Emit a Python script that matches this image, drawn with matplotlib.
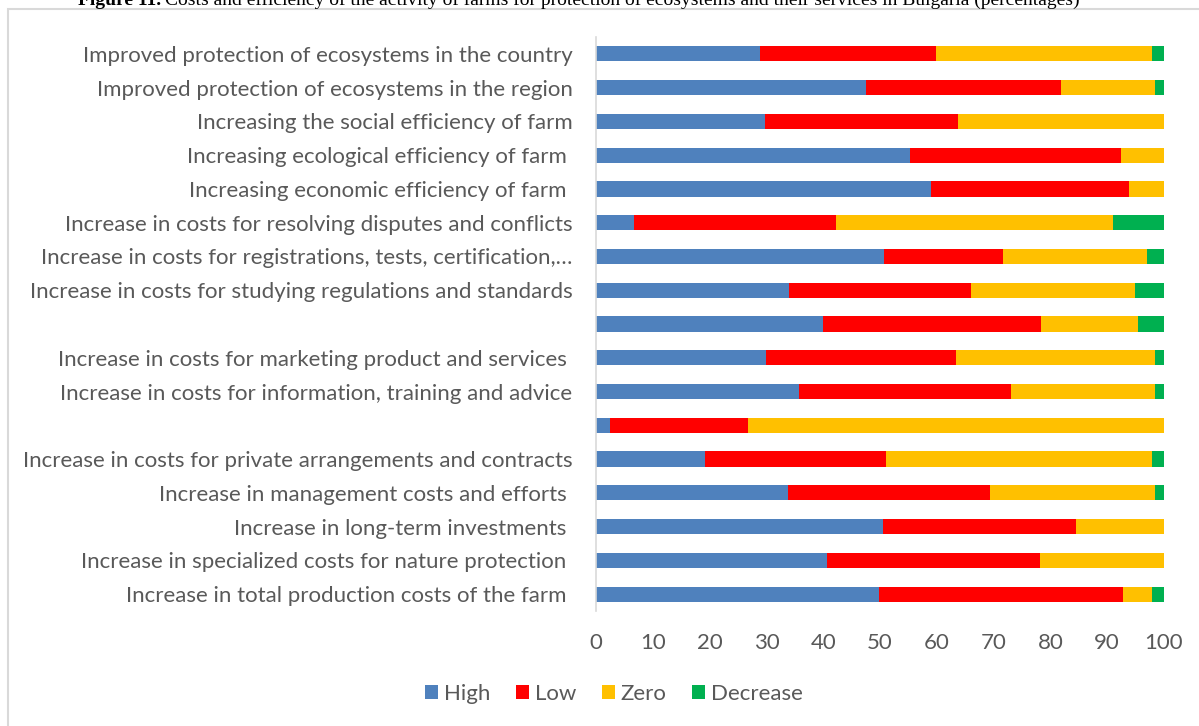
import numpy as np
import matplotlib
matplotlib.use("Agg")
import matplotlib.pyplot as plt
from matplotlib.patches import Rectangle

# categories, top to bottom as in the chart
categories = [
    "Improved protection of ecosystems in the country",
    "Improved protection of ecosystems in the region",
    "Increasing the social efficiency of farm",
    "Increasing ecological efficiency of farm ",
    "Increasing economic efficiency of farm ",
    "Increase in costs for resolving disputes and conflicts",
    "Increase in costs for registrations, tests, certification,\u2026",
    "Increase in costs for studying regulations and standards",
    "",
    "Increase in costs for marketing product and services ",
    "Increase in costs for information, training and advice",
    "",
    "Increase in costs for private arrangements and contracts",
    "Increase in management costs and efforts ",
    "Increase in long-term investments ",
    "Increase in specialized costs for nature protection ",
    "Increase in total production costs of the farm ",
]

high     = [28.9, 47.5, 29.7, 55.2, 59.0, 6.7, 50.7, 33.9, 40.0, 29.9, 35.8, 2.4, 19.2, 33.8, 50.6, 40.6, 49.9]
low      = [31.0, 34.4, 34.0, 37.3, 34.9, 35.5, 20.9, 32.1, 38.4, 33.5, 37.3, 24.4, 31.9, 35.5, 33.9, 37.6, 42.8]
zero     = [37.9, 16.5, 36.3, 7.5, 6.1, 48.9, 25.4, 28.9, 17.0, 35.0, 25.4, 73.2, 46.7, 29.1, 15.5, 21.8, 5.2]
decrease = [2.2, 1.6, 0.0, 0.0, 0.0, 8.9, 3.0, 5.1, 4.6, 1.6, 1.5, 0.0, 2.2, 1.6, 0.0, 0.0, 2.1]

series = [("High", high, "#4F81BD"),
          ("Low", low, "#FF0000"),
          ("Zero", zero, "#FFC000"),
          ("Decrease", decrease, "#00B050")]

txt = "#595959"
fnt = "Lato"

fig = plt.figure(figsize=(11.99, 7.26), dpi=100)
ax = fig.add_axes([596/1199, 1 - 611/726, 568/1199, 574/726])

y = np.arange(len(categories))
left = np.zeros(len(categories))
for name, vals, col in series:
    vals = np.array(vals)
    ax.barh(y, vals, left=left, height=0.45, color=col, label=name)
    left += vals

ax.set_xlim(0, 100)
ax.set_ylim(len(categories) - 0.5, -0.5)
ax.set_xticks(np.arange(0, 101, 10))
ax.set_yticks(y)
ax.set_yticklabels(categories, fontsize=16, color=txt, family=fnt)
for lab in ax.get_xticklabels():
    lab.set_fontsize(16)
    lab.set_color(txt)
    lab.set_family(fnt)
ax.tick_params(axis="both", length=0)
ax.tick_params(axis="y", pad=17)
ax.tick_params(axis="x", pad=16)
for s in ["top", "right", "bottom"]:
    ax.spines[s].set_visible(False)
ax.spines["left"].set_color("#d9d9d9")
ax.spines["left"].set_linewidth(1.2)

leg = fig.legend(loc="center", bbox_to_anchor=(614/1199, 1 - 694/726), ncol=4,
                 frameon=False, handlelength=0.6, handleheight=0.6,
                 handletextpad=0.25, columnspacing=1.15,
                 prop={"family": fnt, "size": 16})
for t in leg.get_texts():
    t.set_color(txt)

# chart border (cut off at right and bottom in the source)
fig.patches.append(Rectangle((8/1199, -0.05), 1.2, 1 - 9/726 + 0.05,
                             transform=fig.transFigure, fill=False,
                             edgecolor="#d9d9d9", linewidth=1.5))

# caption above the chart, partly clipped like in the source
cap_y = 1 - 5/726
t1 = fig.text(78/1199, cap_y, "Figure 11.", ha="left", va="baseline",
              fontsize=14, family="Liberation Serif", weight="bold")
fig.canvas.draw()
bb = t1.get_window_extent()
fig.text((bb.x1 + 4)/1199, cap_y,
         "Costs and efficiency of the activity of farms for protection of ecosystems and their services in Bulgaria (percentages)",
         ha="left", va="baseline", fontsize=14, family="Liberation Serif")

fig.savefig("out.png", dpi=100)
